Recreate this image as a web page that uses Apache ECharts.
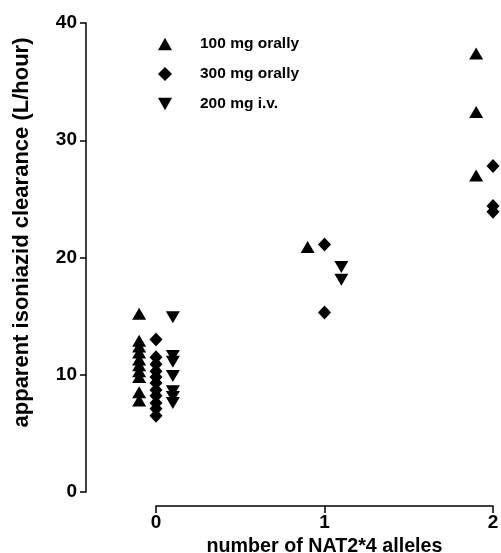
<!DOCTYPE html>
<html><head><meta charset="utf-8">
<script src="https://cdn.jsdelivr.net/npm/echarts@6/dist/echarts.min.js"></script>
<style>html,body{margin:0;padding:0;background:#fff}#c{width:501px;height:553px}</style>
</head><body><div id="c"></div>
<script>
// x positions: allele count with small offset per group
const seriesNames = ["100 mg orally", "300 mg orally", "200 mg i.v."];
const xOffsets = [-0.1, 0, 0.1];
// values per allele group [0,1,2]
const oral100 = [
  [15.2, 12.9, 12.4, 11.9, 11.3, 10.8, 10.3, 9.8, 8.5, 7.8],
  [20.9],
  [37.4, 32.4, 27.0]
];
const oral300 = [
  [13.0, 11.5, 10.9, 10.3, 9.8, 9.3, 8.7, 8.2, 7.6, 7.1, 6.5],
  [21.1, 15.3],
  [27.8, 24.4, 23.9]
];
const iv200 = [
  [14.9, 11.6, 11.1, 9.9, 8.6, 8.1, 7.6],
  [],
  []
];
const ivAt1 = [19.2, 18.1]; // 200 mg i.v. at 1 allele
const xTicks = [0, 1, 2];
const yTicks = [0, 10, 20, 30, 40];

function pts(groups, off) {
  const out = [];
  groups.forEach((vals, g) => vals.forEach(v => out.push([g + off, v])));
  return out;
}
const ivPts = pts(iv200, 0.1).concat(ivAt1.map(v => [1.1, v]));
const downTri = 'path://M0,0 L10,0 L5,9 Z';
const upTri = 'path://M5,0 L10,9 L0,9 Z';

const chart = echarts.init(document.getElementById('c'));
const font = 'Liberation Sans, Arial, sans-serif';
const mark = { color: '#000', opacity: 1 };
chart.setOption({
  animation: false,
  backgroundColor: '#fff',
  grid: { left: 156, right: 8, top: 23, bottom: 61, containLabel: false, outerBoundsMode: 'none' },
  legend: {
    orient: 'vertical', left: 153, top: 31, itemGap: 14,
    itemWidth: 14, itemHeight: 14,
    textStyle: { fontFamily: font, fontWeight: 'bold', fontSize: 15.5, color: '#000', padding: [0, 0, 0, 23] },
    data: [
      { name: seriesNames[0], icon: upTri },
      { name: seriesNames[1], icon: 'diamond' },
      { name: seriesNames[2], icon: downTri }
    ]
  },
  xAxis: {
    type: 'value', min: 0, max: 2, interval: 1, offset: 14,
    axisLine: { show: true, onZero: false, lineStyle: { color: '#000', width: 1.5 } },
    axisTick: { show: true, length: 7, lineStyle: { color: '#000', width: 1.5 } },
    splitLine: { show: false },
    axisLabel: { fontFamily: font, fontWeight: 'bold', fontSize: 19, color: '#000', margin: 7,
      formatter: v => xTicks.includes(v) ? String(v) : '' },
    name: 'number of NAT2*4 alleles', nameLocation: 'middle', nameGap: 29,
    nameTextStyle: { fontFamily: font, fontWeight: 'bold', fontSize: 19.7, color: '#000' }
  },
  yAxis: {
    type: 'value', min: 0, max: 40, interval: 10, offset: 70,
    axisLine: { show: true, onZero: false, lineStyle: { color: '#000', width: 1.5 } },
    axisTick: { show: true, length: 6, lineStyle: { color: '#000', width: 1.5 } },
    splitLine: { show: false },
    axisLabel: { fontFamily: font, fontWeight: 'bold', fontSize: 19, color: '#000', margin: 9,
      formatter: v => yTicks.includes(v) ? String(v) : '' },
    name: 'apparent isoniazid clearance (L/hour)', nameLocation: 'middle', nameGap: 53,
    nameTextStyle: { fontFamily: font, fontWeight: 'bold', fontSize: 22, color: '#000', padding: [0, 0, 0, 50] }
  },
  series: [
    { name: seriesNames[0], type: 'scatter', clip: false, symbol: upTri, symbolSize: [14, 12],
      itemStyle: mark, data: pts(oral100, xOffsets[0]) },
    { name: seriesNames[1], type: 'scatter', clip: false, symbol: 'diamond', symbolSize: [13, 14],
      itemStyle: mark, data: pts(oral300, xOffsets[1]) },
    { name: seriesNames[2], type: 'scatter', clip: false, symbol: downTri, symbolSize: [14, 12],
      itemStyle: mark, data: ivPts }
  ]
});
</script></body></html>
